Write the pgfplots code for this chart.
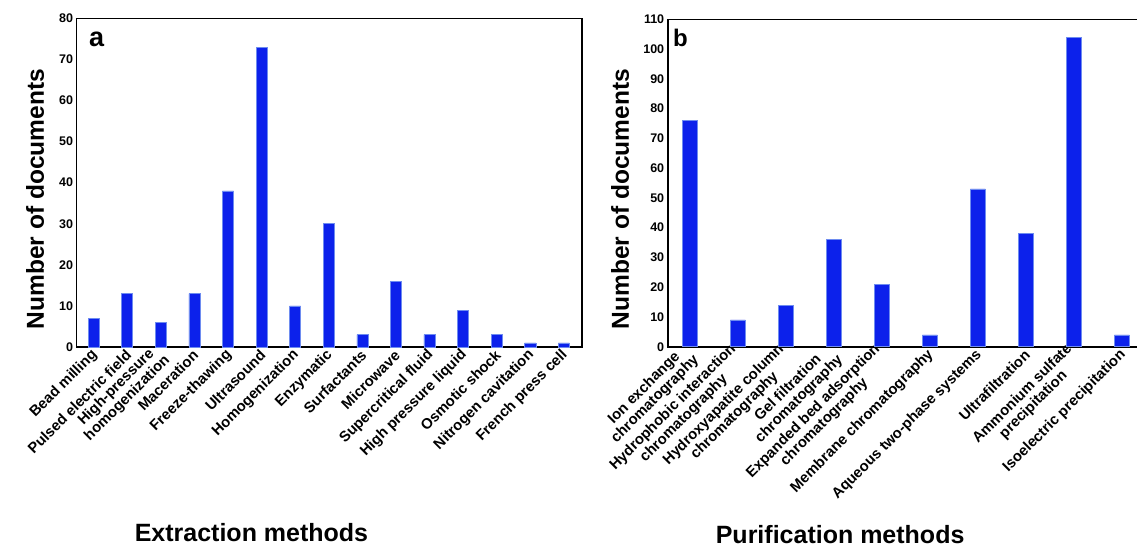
\documentclass[border=0pt]{standalone}
\usepackage{fontspec}
\setmainfont{Liberation Sans}
\usepackage{pgfplots}
\pgfplotsset{compat=1.18}
\definecolor{barblue}{RGB}{12,33,235}
\definecolor{baredge}{RGB}{110,140,240}
\begin{document}
\begin{tikzpicture}
\pgfplotsset{
 myax/.style={
  scale only axis, anchor=south west,
  ybar, bar width=0.33,
  axis line style={line width=1.6pt},
  major tick length=0pt,
  ymin=0,
  xtick=data,
  /pgf/number format/assume math mode=true,
  yticklabel style={font=\bfseries\fontsize{12.5}{12.5}\selectfont},
  xticklabel style={font=\bfseries\fontsize{14.8}{15.5}\selectfont, rotate=45, anchor=east, align=center, inner sep=2pt, yshift=-5pt, xshift=-1pt},
  ylabel style={font=\bfseries\fontsize{24.5}{26}\selectfont, anchor=center},
  xlabel style={font=\bfseries\fontsize{25}{26}\selectfont, anchor=base},
 }
}
\begin{axis}[myax,
  at={(76.6pt,200pt)}, width=505.4pt, height=328.7pt,
  xmin=-0.506, xmax=14.54, ymax=80, ytick={0,10,...,80},
  xticklabels={Bead milling, Pulsed electric field, {High-pressure\\homogenization}, Maceration, Freeze-thawing, Ultrasound, Homogenization, Enzymatic, Surfactants, Microwave, Supercritical fluid, High pressure liquid, Osmotic shock, Nitrogen cavitation, French press cell},
  ylabel={Number of documents},
  ylabel style={at={(axis description cs:-0.0823,0.45)}},
  xlabel={Extraction methods},
  xlabel style={at={(axis description cs:0.346,-0.593)}},
]
\addplot[fill=barblue, draw=baredge, line width=0.5pt] coordinates {(0,7) (1,13) (2,6) (3,13) (4,38) (5,73) (6,10) (7,30) (8,3) (9,16) (10,3) (11,9) (12,3) (13,1) (14,1)};
\node[anchor=base west, inner sep=0pt, font=\bfseries\fontsize{27}{27}\selectfont] at (rel axis cs:0.0245,0.9127) {a};
\end{axis}
\begin{axis}[myax,
  at={(667.7pt,200.3pt)}, width=476.3pt, height=327.4pt,
  xmin=-0.46, xmax=9.46, ymax=110, ytick={0,10,...,110},
  bar width=0.31,
  xticklabels={{Ion exchange\\chromatography}, {Hydrophobic interaction\\chromatography}, {Hydroxyapatite column\\chromatography}, {Gel filtration\\chromatography}, {Expanded bed adsorption\\chromatography}, Membrane chromatography, Aqueous two-phase systems, Ultrafiltration, {Ammonium sulfate\\precipitation}, Isoelectric precipitation},
  ylabel={Number of documents},
  ylabel style={at={(axis description cs:-0.1,0.451)}},
  xlabel={Purification methods},
  xlabel style={at={(axis description cs:0.362,-0.5996)}},
]
\addplot[fill=barblue, draw=baredge, line width=0.5pt] coordinates {(0,76) (1,9) (2,14) (3,36) (4,21) (5,4) (6,53) (7,38) (8,104) (9,4)};
\node[anchor=base west, inner sep=0pt, font=\bfseries\fontsize{24}{24}\selectfont] at (rel axis cs:0.011,0.918) {b};
\end{axis}
\pgfresetboundingbox
\path (0pt,0pt) rectangle (1137pt,547pt);
\end{tikzpicture}
\end{document}
